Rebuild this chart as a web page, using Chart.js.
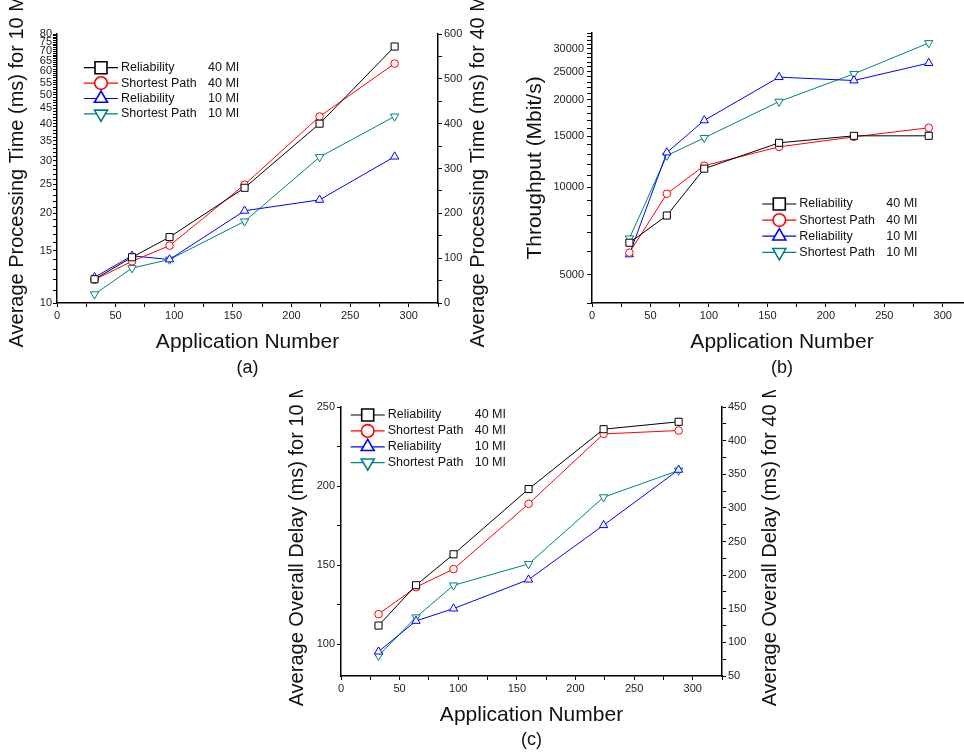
<!DOCTYPE html>
<html>
<head>
<meta charset="utf-8">
<script src="https://cdn.jsdelivr.net/npm/chart.js@4.4.1/dist/chart.umd.min.js"></script>
<style>
  html, body { margin: 0; padding: 0; background: #fff; overflow: hidden; }
  body { width: 964px; height: 756px; position: relative; }
  canvas { position: absolute; }
</style>
</head>
<body>
<canvas id="procChart" width="520" height="380" style="left:0;top:0"></canvas>
<canvas id="thrChart" width="480" height="380" style="left:500px;top:0"></canvas>
<canvas id="delayChart" width="520" height="366" style="left:280px;top:390px"></canvas>
<script>
// x values shared by all three panels
const appNumbers = [32, 64, 96, 160, 224, 288];
const seriesNames = ['Reliability', 'Shortest Path', 'Reliability', 'Shortest Path'];
const seriesLoads = ['40 MI', '40 MI', '10 MI', '10 MI'];

// (a) average processing time, 40 MI on right axis, 10 MI on left (log) axis
const procRel40 = [53, 102, 147, 257, 400, 572];
const procSp40 = [52, 93, 128, 264, 416, 534];
const procRel10 = [12.2, 14.4, 14.0, 20.4, 22.2, 31.0];
const procSp10 = [10.7, 13.1, 14.0, 18.8, 30.9, 42.3];

// (b) throughput (Mbit/s), log axis
const thrRel40 = [6450, 8000, 11600, 14240, 15050, 15050];
const thrSp40 = [5960, 9510, 11880, 13790, 14930, 16040];
const thrRel10 = [5880, 13180, 17010, 23960, 23330, 26790];
const thrSp10 = [6680, 12870, 14810, 19740, 24600, 31410];

// (c) average overall delay, 40 MI on right axis, 10 MI on left axis
const delayRel40 = [125, 185, 231, 328, 417, 428];
const delaySp40 = [142, 182, 209, 306, 410, 415];
const delayRel10 = [95.4, 114.8, 122.6, 140.9, 175.3, 210.3];
const delaySp10 = [92.8, 117.1, 137.3, 150.8, 193, 209.9];

// tick labels
const xLabels = [0, 50, 100, 150, 200, 250, 300];
const procLeftLabels = [10, 15, 20, 25, 30, 35, 40, 45, 50, 55, 60, 65, 70, 75, 80];
const procRightLabels = [0, 100, 200, 300, 400, 500, 600];
const thrLabels = [5000, 10000, 15000, 20000, 25000, 30000];
const delayLeftLabels = [100, 150, 200, 250];
const delayRightLabels = [50, 100, 150, 200, 250, 300, 350, 400, 450];

Chart.defaults.font.family = '"Liberation Sans", Arial, sans-serif';
Chart.defaults.color = '#111';

function range(a, b, step) {
  const out = [];
  for (let v = a; v <= b + 1e-9; v += step) out.push(+v.toFixed(6));
  return out;
}

const styles = [
  { color: '#000000', pointStyle: 'rect', radius: 5, legendRadius: 8.5 },
  { color: '#ff0000', pointStyle: 'circle', radius: 3.8, legendRadius: 6.3 },
  { color: '#0000ff', pointStyle: 'triangle', radius: 4.8, legendRadius: 7.5 },
  { color: '#008080', pointStyle: 'triangle', rotation: 180, radius: 4.8, legendRadius: 7.5 }
];

function makeDatasets(series, axisIds) {
  return series.map((vals, i) => ({
    label: seriesNames[i] + ' ' + seriesLoads[i],
    data: vals.map((v, j) => ({ x: appNumbers[j], y: v })),
    yAxisID: axisIds[i],
    borderColor: styles[i].color,
    borderWidth: 1,
    pointStyle: styles[i].pointStyle,
    pointRotation: styles[i].rotation || 0,
    pointRadius: styles[i].radius,
    pointBorderWidth: 1,
    pointBorderColor: styles[i].color,
    pointBackgroundColor: '#fff',
    tension: 0
  }));
}

function axis(cfg) {
  return {
    type: cfg.type || 'linear',
    position: cfg.position,
    min: cfg.min,
    max: cfg.max,
    border: { display: true, color: '#000', width: 1.5 },
    grid: { drawOnChartArea: false, drawTicks: true, tickLength: cfg.tickLength || 4, tickColor: '#000', tickWidth: 1 },
    ticks: {
      autoSkip: false,
      maxRotation: 0,
      color: '#222',
      padding: cfg.pad !== undefined ? cfg.pad : 2,
      font: { size: 11 },
      callback: v => cfg.labels.includes(v) ? String(v) : ''
    },
    afterBuildTicks: s => { s.ticks = cfg.ticks.map(v => ({ value: v })); },
    afterFit: s => {
      if (cfg.width) s.width = cfg.width;
      if (cfg.height) s.height = cfg.height;
    },
    title: cfg.title
      ? { display: true, text: cfg.title, font: { size: cfg.titleSize || 20 }, color: '#111', padding: cfg.titlePad }
      : { display: false }
  };
}

// Origin-style legend, right-side rotated title and panel caption
const extrasPlugin = {
  id: 'extras',
  afterDraw(chart, args, opts) {
    const ctx = chart.ctx;
    const area = chart.chartArea;
    ctx.save();
    const lg = opts.legend;
    if (lg) {
      chart.data.datasets.forEach((ds, i) => {
        const x0 = area.left + lg.x;
        const y = area.top + lg.y + i * lg.gap;
        ctx.strokeStyle = styles[i].color;
        ctx.lineWidth = 1.2;
        ctx.beginPath();
        ctx.moveTo(x0, y);
        ctx.lineTo(x0 + 34, y);
        ctx.stroke();
        ctx.fillStyle = '#fff';
        ctx.lineWidth = 1.6;
        Chart.helpers.drawPoint(ctx, {
          pointStyle: styles[i].pointStyle,
          radius: styles[i].legendRadius,
          rotation: styles[i].rotation || 0,
          borderWidth: 1.6
        }, x0 + 17, y);
        ctx.fillStyle = '#111';
        ctx.font = '12.5px "Liberation Sans", Arial, sans-serif';
        ctx.textAlign = 'left';
        ctx.textBaseline = 'middle';
        ctx.fillText(seriesNames[i], x0 + 37, y);
        ctx.fillText(seriesLoads[i], x0 + 124, y);
      });
    }
    if (opts.rightTitle) {
      ctx.save();
      ctx.translate(opts.rightTitle.x, (area.top + area.bottom) / 2);
      ctx.rotate(-Math.PI / 2);
      ctx.font = '20px "Liberation Sans", Arial, sans-serif';
      ctx.fillStyle = '#111';
      ctx.textAlign = 'center';
      ctx.textBaseline = 'middle';
      ctx.fillText(opts.rightTitle.text, 0, 0);
      ctx.restore();
    }
    if (opts.caption) {
      ctx.font = '18px "Liberation Sans", Arial, sans-serif';
      ctx.fillStyle = '#111';
      ctx.textAlign = 'center';
      ctx.textBaseline = 'middle';
      ctx.fillText(opts.caption.text, (area.left + area.right) / 2, opts.caption.y);
    }
    ctx.restore();
  }
};

function baseOptions(layoutPad, scales, extras) {
  return {
    responsive: false,
    animation: false,
    devicePixelRatio: 1,
    layout: { padding: layoutPad },
    scales: scales,
    plugins: { legend: { display: false }, tooltip: { enabled: false }, extras: extras }
  };
}

const xAxisCfg = (height, titlePadBottom) => axis({
  min: 0, max: 325, position: 'bottom', ticks: range(0, 325, 25), labels: xLabels,
  height: height, tickLength: 4, pad: 2,
  title: 'Application Number', titleSize: 21, titlePad: { top: 0, bottom: titlePadBottom }
});

// (a)
new Chart(document.getElementById('procChart'), {
  type: 'line',
  data: { datasets: makeDatasets([procRel40, procSp40, procRel10, procSp10], ['y1', 'y1', 'y', 'y']) },
  options: baseOptions(
    { top: 34, right: 22, bottom: 0, left: 0 },
    {
      x: xAxisCfg(77, 25.4),
      y: axis({
        type: 'logarithmic', position: 'left', min: 10, max: 80,
        ticks: range(10, 80, 1), labels: procLeftLabels, width: 57, tickLength: 4, pad: 1,
        title: 'Average Processing Time (ms) for 10 MI', titlePad: { top: 5, bottom: 0 }
      }),
      y1: axis({
        position: 'right', min: 0, max: 600,
        ticks: range(0, 600, 50), labels: procRightLabels, width: 60, tickLength: 4, pad: 2
      })
    },
    {
      legend: { x: 27, y: 33.7, gap: 15.4 },
      rightTitle: { text: 'Average Processing Time (ms) for 40 MI', x: 478 },
      caption: { text: '(a)', y: 368 }
    }
  ),
  plugins: [extrasPlugin]
});

// (b)
new Chart(document.getElementById('thrChart'), {
  type: 'line',
  data: { datasets: makeDatasets([thrRel40, thrSp40, thrRel10, thrSp10], ['y', 'y', 'y', 'y']) },
  options: baseOptions(
    { top: 33, right: 8, bottom: 0, left: 0 },
    {
      x: xAxisCfg(77, 25.4),
      y: axis({
        type: 'logarithmic', position: 'left', min: 4000, max: 34000,
        ticks: range(4000, 34000, 1000), labels: thrLabels, width: 92, tickLength: 5, pad: 3,
        title: 'Throughput (Mbit/s)', titleSize: 21, titlePad: { top: 22.4, bottom: 0 }
      })
    },
    {
      legend: { x: 170.3, y: 171, gap: 16.1 },
      caption: { text: '(b)', y: 368 }
    }
  ),
  plugins: [extrasPlugin]
});

// (c)
new Chart(document.getElementById('delayChart'), {
  type: 'line',
  data: { datasets: makeDatasets([delayRel40, delaySp40, delayRel10, delaySp10], ['y1', 'y1', 'y', 'y']) },
  options: baseOptions(
    { top: 17, right: 8, bottom: 0, left: 0 },
    {
      x: xAxisCfg(80, 28.4),
      y: axis({
        position: 'left', min: 80, max: 250,
        ticks: range(100, 250, 25), labels: delayLeftLabels, width: 61, tickLength: 4, pad: 2,
        title: 'Average Overall Delay (ms) for 10 MI', titlePad: { top: 5, bottom: 0 }
      }),
      y1: axis({
        position: 'right', min: 50, max: 450,
        ticks: range(50, 450, 25), labels: delayRightLabels, width: 70, tickLength: 4, pad: 2
      })
    },
    {
      legend: { x: 9.7, y: 8, gap: 15.9 },
      rightTitle: { text: 'Average Overall Delay (ms) for 40 MI', x: 490.5 },
      caption: { text: '(c)', y: 350 }
    }
  ),
  plugins: [extrasPlugin]
});
</script>
</body>
</html>
